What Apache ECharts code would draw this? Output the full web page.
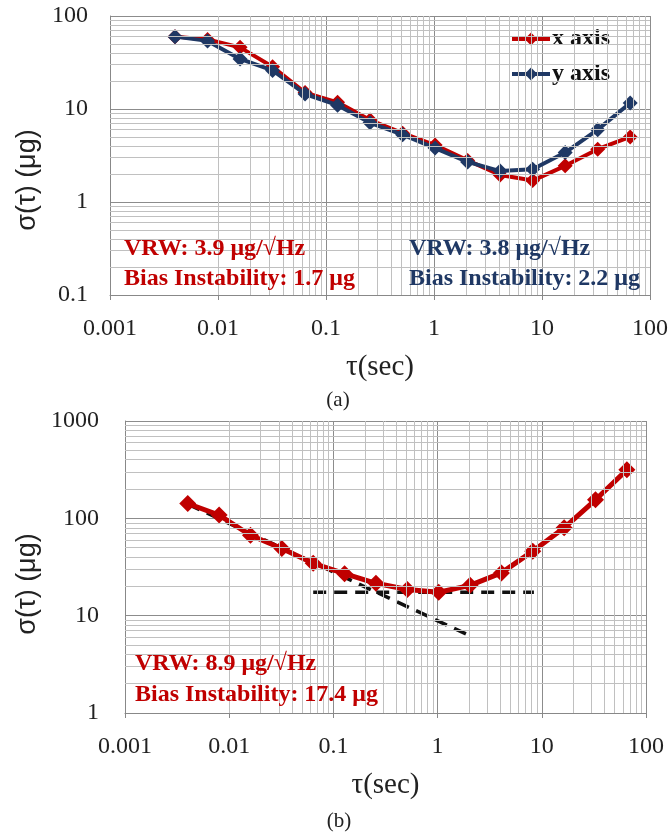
<!DOCTYPE html>
<html>
<head>
<meta charset="utf-8">
<script src="https://cdn.jsdelivr.net/npm/echarts@6/dist/echarts.min.js"></script>
<style>
  html, body { margin: 0; padding: 0; background: #fff; }
  #main { width: 671px; height: 835px; }
</style>
</head>
<body>
<div id="main"></div>
<script>
// averaging times (s)
var tau = [0.004, 0.008, 0.016, 0.032, 0.064, 0.128, 0.256, 0.512, 1.024, 2.048, 4.096, 8.192, 16.384, 32.768, 65.536]
// panel (a)
var sigmaX = [60, 56, 46, 28.5, 15, 11.8, 7.6, 5.5, 4.1, 2.8, 1.95, 1.7, 2.45, 3.7, 5.0]
var sigmaY = [60, 54, 34.5, 26, 14.5, 11, 7.1, 5.3, 3.8, 2.7, 2.15, 2.25, 3.4, 6.0, 11.6]
// panel (b)
var sigmaB = [142, 108, 67, 49, 34.5, 27, 21.5, 18.6, 17.4, 20.5, 27.5, 46, 80, 155, 315]
var vrwLine = [[0.004, 140], [2.048, 6.2]]
var biasLine = [[0.064, 17.4], [8.4, 17.4]]

var xTicks = ['0.001', '0.01', '0.1', '1', '10', '100']
var yTicksA = ['0.1', '1', '10', '100']
var yTicksB = ['1', '10', '100', '1000']

var RED = '#c00000'
var NAVY = '#1f3864'
var SERIF = 'Liberation Serif'

function pairs(ys) {
  return tau.map(function (t, i) { return [t, ys[i]] })
}

// minor grid values 2..9 x 10^k
function minors(k0, k1) {
  var out = []
  for (var k = k0; k <= k1; k++) {
    for (var m = 2; m <= 9; m++) out.push(+(m * Math.pow(10, k)).toPrecision(3))
  }
  return out
}

function gridSeries(idx, xs, ys) {
  var data = []
  xs.forEach(function (v) { data.push({ xAxis: v }) })
  ys.forEach(function (v) { data.push({ yAxis: v }) })
  return {
    type: 'line', xAxisIndex: idx, yAxisIndex: idx, data: [], z: 0,
    markLine: {
      silent: true, symbol: ['none', 'none'], animation: false,
      label: { show: false },
      lineStyle: { color: '#c0c0c0', width: 1, type: 'solid' },
      data: data
    }
  }
}

function xAxisOf(idx) {
  return {
    type: 'log', gridIndex: idx, logBase: 10, min: 0.001, max: 100,
    name: 'τ(sec)', nameLocation: 'middle', nameGap: 58,
    nameTextStyle: { fontFamily: SERIF, fontSize: 29, color: '#222' },
    axisLine: { lineStyle: { color: '#888' } },
    axisTick: { show: true, length: 5, lineStyle: { color: '#888' } },
    axisLabel: {
      fontFamily: SERIF, fontSize: 24, color: '#222', margin: 22,
      formatter: function (v, i) { return xTicks[i] }
    },
    splitLine: { show: true, lineStyle: { color: '#8c8c8c', width: 1 } }
  }
}

function yAxisOf(idx, mn, mx, labels, margin) {
  return {
    type: 'log', gridIndex: idx, logBase: 10, min: mn, max: mx,
    axisLine: { show: true, lineStyle: { color: '#888' } },
    axisTick: { show: false },
    axisLabel: {
      fontFamily: SERIF, fontSize: 24, color: '#222', margin: margin,
      formatter: function (v, i) { return labels[i] }
    },
    splitLine: { show: true, lineStyle: { color: '#8c8c8c', width: 1 } }
  }
}

function note(x, y, text, color) {
  return {
    type: 'text', left: x, top: y, z: 100,
    style: { text: text, fill: color, font: 'bold 24px "Liberation Serif"' }
  }
}

function yName(y) {
  return {
    type: 'text', x: 28, y: y, rotation: Math.PI / 2,
    style: { text: 'σ(τ) (μg)', fill: '#222', font: '27px "Liberation Sans"', align: 'center', verticalAlign: 'middle' }
  }
}

var chart = echarts.init(document.getElementById('main'))
chart.setOption({
  animation: false,
  grid: [
    { left: 110, top: 16, width: 541, height: 279 },
    { left: 125, top: 421, width: 521, height: 292 }
  ],
  xAxis: [xAxisOf(0), xAxisOf(1)],
  yAxis: [yAxisOf(0, 0.1, 100, yTicksA, 22), yAxisOf(1, 1, 1000, yTicksB, 26)],
  legend: {
    data: ['x axis', 'y axis'], orient: 'vertical', left: 505, top: 22,
    itemWidth: 38, itemHeight: 16, itemGap: 11,
    lineStyle: { width: 4 },
    textStyle: { fontFamily: SERIF, fontSize: 24, fontWeight: 'bold', color: '#111', padding: [0, 0, 0, -3] }
  },
  graphic: [
    yName(180),
    yName(584),
    { type: 'text', x: 338, y: 400, style: { text: '(a)', fill: '#222', font: '21px "Liberation Serif"', align: 'center', verticalAlign: 'middle' } },
    { type: 'text', x: 339, y: 821, style: { text: '(b)', fill: '#222', font: '21px "Liberation Serif"', align: 'center', verticalAlign: 'middle' } },
    note(124, 237, 'VRW: 3.9 μg/√Hz', RED),
    note(124, 267, 'Bias Instability: 1.7 μg', RED),
    note(409, 237, 'VRW: 3.8 μg/√Hz', NAVY),
    note(409, 267, 'Bias Instability: 2.2 μg', NAVY),
    note(135, 652, 'VRW: 8.9 μg/√Hz', RED),
    note(135, 683, 'Bias Instability: 17.4 μg', RED)
  ],
  series: [
    gridSeries(0, minors(-3, 1), minors(-1, 1)),
    gridSeries(1, minors(-3, 1), minors(0, 2)),
    {
      name: 'x axis', type: 'line', xAxisIndex: 0, yAxisIndex: 0, data: pairs(sigmaX),
      color: RED, symbol: 'diamond', symbolSize: 15,
      itemStyle: { color: RED, borderColor: RED, borderWidth: 0 },
      lineStyle: { width: 4 }, z: 3
    },
    {
      name: 'y axis', type: 'line', xAxisIndex: 0, yAxisIndex: 0, data: pairs(sigmaY),
      color: NAVY, symbol: 'diamond', symbolSize: 15,
      itemStyle: { color: NAVY, borderColor: NAVY, borderWidth: 0 },
      lineStyle: { width: 4 }, z: 4
    },
    {
      type: 'line', xAxisIndex: 1, yAxisIndex: 1, data: vrwLine, symbol: 'none',
      lineStyle: { color: '#111', width: 3.5, type: [13, 8] }, z: 3
    },
    {
      type: 'line', xAxisIndex: 1, yAxisIndex: 1, data: biasLine, symbol: 'none',
      lineStyle: { color: '#111', width: 3.5, type: [13, 8] }, z: 3
    },
    {
      type: 'line', xAxisIndex: 1, yAxisIndex: 1, data: pairs(sigmaB),
      color: RED, symbol: 'diamond', symbolSize: 17,
      itemStyle: { color: RED, borderColor: RED, borderWidth: 0 },
      lineStyle: { width: 5 }, z: 4
    }
  ]
})
</script>
</body>
</html>
